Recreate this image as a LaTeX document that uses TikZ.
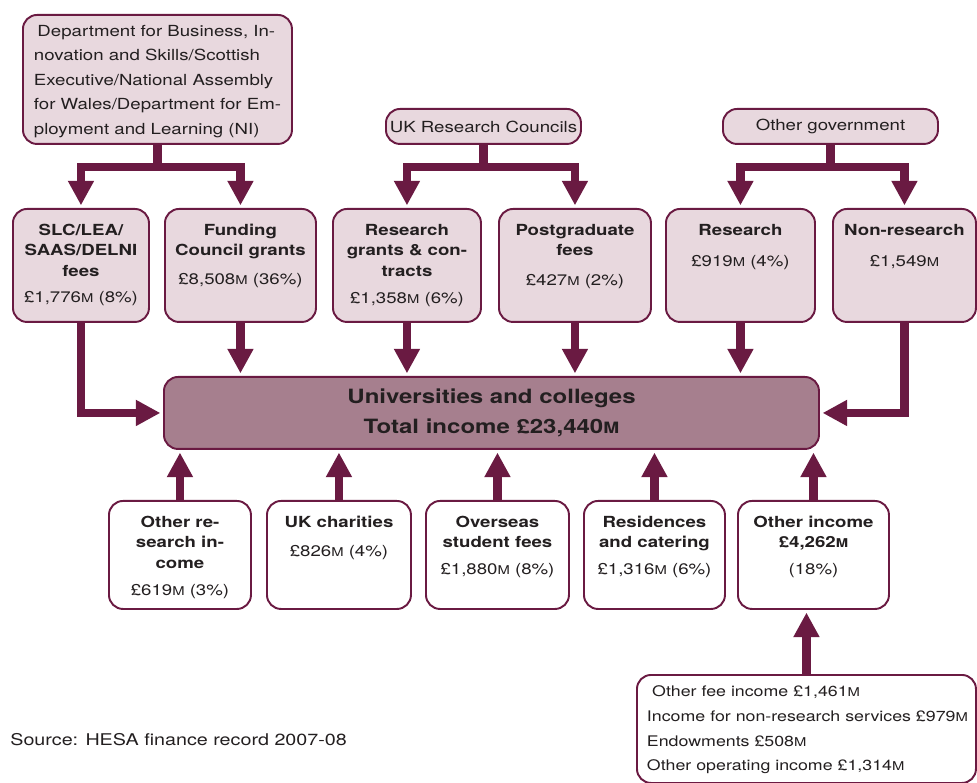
\documentclass[tikz,border=0pt]{standalone}
\usepackage{fontspec}
\setmainfont{TeX Gyre Heros}[FakeStretch=1.22]
\usetikzlibrary{arrows.meta}

\definecolor{plum}{HTML}{6A1A42}
\definecolor{mauvelight}{HTML}{E8D8DE}
\definecolor{mauvedark}{HTML}{A67F8E}
\definecolor{inktext}{HTML}{231F20}

\newlength{\px}
\setlength{\px}{0.02cm}
\newcommand{\mill}{{\fontsize{6.9}{8}\selectfont M}}
\newcommand{\boldmill}{{\fontsize{8.9}{10}\selectfont M}}
% centred text, hung from the top of a w x h box
\newcommand{\boxtext}[3]{\parbox[c][#2\px][t]{#1\px}{\centering\rule{0pt}{15pt}#3}}

\tikzset{
  srcbox/.style={draw=plum, fill=mauvelight, line width=1.1pt, rounded corners=8pt,
    inner sep=0pt, anchor=north west, text=inktext, font=\fontsize{8.7}{11.6}\selectfont},
  openbox/.style={srcbox, fill=white},
  totalbox/.style={srcbox, fill=mauvedark},
  flow/.style={draw=plum, line width=5pt, shorten >=1.5pt, -{Triangle[width=14pt,length=14pt]}},
}

\begin{document}
\begin{tikzpicture}[x=0.02cm, y=-0.02cm]
  \useasboundingbox (0,0) rectangle (977,783);

  % Sources
  \node[srcbox] (dept) at (22,14) {\parbox[c][129\px][t]{269\px}{\raggedright\leftskip=11\px
    \fontsize{8.7}{13.9}\selectfont\rule{0pt}{12.3pt}\hspace{2pt}Department for Business, In-\\
    novation and Skills/Scottish\\Executive/National Assembly\\for Wales/Department for Em-\\
    ployment and Learning (NI)}};
  \node[srcbox] (ukrc) at (385,108) {\parbox[c][35\px][c]{195\px}{\centering UK Research Councils}};
  \node[srcbox] (othgov) at (722,108) {\parbox[c][35\px][c]{215\px}{\centering Other government}};

  % Income streams from above
  \node[srcbox] (slc) at (12,208) {\boxtext{136}{113}{\textbf{SLC/LEA/\\SAAS/DELNI\\fees}\\[3.5pt]£1,776\mill{} (8\%)}};
  \node[srcbox] (fund) at (164,208) {\boxtext{151}{113}{\textbf{Funding\\Council grants}\\[5pt]£8,508\mill{} (36\%)}};
  \node[srcbox] (rgc) at (332,208) {\boxtext{148}{113}{\textbf{Research\\grants \& con-\\tracts}\\[4pt]£1,358\mill{} (6\%)}};
  \node[srcbox] (pgf) at (498,208) {\boxtext{152}{113}{\textbf{Postgraduate\\fees}\\[5.5pt]£427\mill{} (2\%)}};
  \node[srcbox] (res) at (665,208) {\boxtext{149}{113}{\textbf{Research}\\[6pt]£919\mill{} (4\%)}};
  \node[srcbox] (nonres) at (832,208) {\boxtext{143}{113}{\textbf{Non-research}\\[6pt]£1,549\mill}};

  % Total
  \node[totalbox] (central) at (163,376) {\parbox[c][72\px][c]{655\px}{\centering\bfseries
    \fontsize{11.2}{17}\selectfont Universities and colleges\\Total income £23,440\boldmill}};

  % Income streams from below
  \node[openbox] (othres) at (108,500) {\boxtext{142}{108}{\textbf{Other re-\\search in-\\come}\\[4pt]£619\mill{} (3\%)}};
  \node[openbox] (charity) at (266,500) {\boxtext{144}{108}{\textbf{UK charities}\\[5pt]£826\mill{} (4\%)}};
  \node[openbox] (overseas) at (425,500) {\boxtext{143}{108}{\textbf{Overseas\\student fees}\\[3.5pt]£1,880\mill{} (8\%)}};
  \node[openbox] (resid) at (583,500) {\boxtext{141}{108}{\textbf{Residences\\and catering}\\[3.5pt]£1,316\mill{} (6\%)}};
  \node[openbox] (otherinc) at (737,500) {\boxtext{151}{108}{\textbf{Other income\\£4,262{\fontsize{6.9}{8}\selectfont M}}\\[3.5pt](18\%)}};

  \node[openbox] (breakdown) at (636,674) {\parbox[c][108\px][t]{339\px}{\leftskip=10\px
    \fontsize{8.3}{14.1}\selectfont
    \mbox{\rule{0pt}{12.3pt}\hspace{3pt}Other fee income £1,461\mill}\\
    \mbox{Income for non-research services £979\mill}\\
    \mbox{Endowments £508\mill}\\
    \mbox{Other operating income £1,314\mill}}};

  \node[anchor=west, inner sep=0pt, text=inktext, font=\fontsize{9.2}{11}\selectfont] (source) at (10,740)
    {Source: HESA finance record 2007-08};

  % Splits
  \draw[flow] (dept.south) -- +(0,22) -| (slc.north);
  \draw[flow] (dept.south) -- +(0,22) -| (fund.north);
  \draw[flow] (ukrc.south) -- +(0,22) -| (rgc.north);
  \draw[flow] (ukrc.south) -- +(0,22) -| (pgf.north);
  \draw[flow] (othgov.south) -- +(0,22) -| (res.north);
  \draw[flow] (othgov.south) -- +(0,22) -| (nonres.north);

  % Into the total
  \draw[flow] (slc.south) |- (central.west);
  \draw[flow] (nonres.south) |- (central.east);
  \foreach \b in {fund,rgc,pgf,res}
    \draw[flow] (\b.south) -- (\b.south |- central.north);
  \foreach \b in {othres,charity,overseas,resid,otherinc}
    \draw[flow] (\b.north) -- (\b.north |- central.south);
  \draw[flow] (breakdown.north) -- (breakdown.north |- otherinc.south);
\end{tikzpicture}
\end{document}
